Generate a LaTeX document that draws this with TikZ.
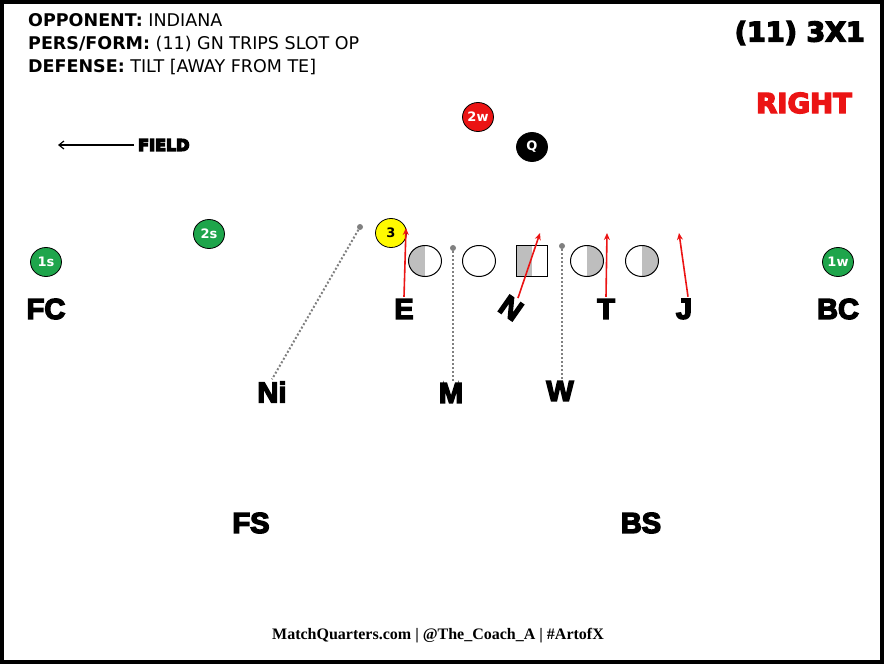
\documentclass[tikz,border=0pt]{standalone}
\usepackage{fontspec}
\setmainfont{DejaVu Sans}
\newfontfamily\blackfont{Liberation Sans}[UprightFont={* Bold}]
\newfontfamily\wideblack{DejaVu Sans}[UprightFont={* Bold}]
\newfontfamily\footfont{Liberation Serif}
\newcommand{\thick}[1]{\special{pdf:literal direct 2 Tr 1.4 w}#1\special{pdf:literal direct 0 Tr}}
\usetikzlibrary{arrows.meta,shapes.geometric}
\definecolor{grn}{RGB}{30,165,75}
\definecolor{rd}{RGB}{235,20,20}
\definecolor{yl}{RGB}{255,250,0}
\definecolor{halfgray}{RGB}{190,190,190}

\begin{document}
\begin{tikzpicture}[x=1pt,y=-1pt,
	spot/.style={font=\blackfont\fontsize{29}{29}\selectfont, inner sep=2pt},
	chip/.style={ellipse, draw=black, line width=0.8pt, minimum width=31pt, minimum height=29pt, inner sep=0pt, text=white, font=\wideblack\fontsize{13}{13}\selectfont},
	oline/.style={ellipse, draw, line width=1pt, minimum width=33pt, minimum height=31pt},
	lhalf/.style={path picture={\fill[halfgray] (path picture bounding box.south west) rectangle (path picture bounding box.north);}},
	rhalf/.style={path picture={\fill[halfgray] (path picture bounding box.south) rectangle (path picture bounding box.north east);}},
	move/.style={rd, line width=1.6pt, -{Stealth[length=7pt,width=6pt]}},
	drop/.style={gray, dotted, line width=2pt},
	knob/.style={circle, fill=gray, inner sep=0pt, minimum size=6pt}]
	\useasboundingbox (0,0) rectangle (884,664);
	\draw[line width=4pt] (2,2) rectangle (882,662); % cadre

	% en-tete
	\begin{scope}[every node/.style={anchor=west, inner sep=0pt, font=\fontsize{17.5}{17.5}\selectfont}]
		\node (opp) at (28,20) {\textbf{OPPONENT:} INDIANA};
		\node (pers) at (28,44) {\textbf{PERS/FORM:} (11) GN TRIPS SLOT OP};
		\node (def) at (28,67) {\textbf{DEFENSE:} TILT [AWAY FROM TE]};
	\end{scope}
	\node[anchor=east, inner sep=0pt, font=\wideblack\fontsize{27}{27}\selectfont] (form) at (865,33) {\thick{(11) 3X1}};
	\node[text=rd, inner sep=0pt, font=\wideblack\fontsize{27.5}{27.5}\selectfont] (side) at (804,103) {\thick{RIGHT}};

	\node[anchor=west, inner sep=0pt, font=\wideblack\fontsize{16}{16}\selectfont] (field) at (138,145) {\thick{FIELD}};
	\coordinate (fieldtip) at (58,145);
	\draw[line width=1.2pt, -{Straight Barb[length=5pt,width=8pt]}] ([xshift=-4pt]field.west) -- (fieldtip);

	% attaque
	\node[chip, fill=rd] (c2w) at (478,117) {2w};
	\node[chip, fill=black] (cQ) at (532,147) {Q};
	\node[chip, fill=grn] (c2s) at (209,234) {2s};
	\node[chip, fill=grn] (c1s) at (46,262) {1s};
	\node[chip, fill=grn] (c1w) at (838,262) {1w};
	\node[chip, fill=yl, text=black] (c3) at (391,233) {3};
	\node[oline, lhalf] (lt) at (425,261) {};
	\node[oline] (lg) at (479,261) {};
	\node[draw, line width=1pt, minimum size=31pt, inner sep=0pt, lhalf] (ctr) at (532,261) {};
	\node[oline, rhalf] (rg) at (587,261) {};
	\node[oline, rhalf] (rt) at (642,261) {};

	% defense
	\foreach \Name/\Text/\Point in {FC/FC/{(46,309)}, E/E/{(404,309)}, T/T/{(606,309)},
		J/J/{(684,309)}, BC/BC/{(838,309)}, Ni/Ni/{(272,392)}, M/M/{(451,393)},
		W/W/{(560,391)}, FS/FS/{(251,523)}, BS/BS/{(641,523)}}{
		\node[spot] (\Name) at \Point {\thick{\Text}};}
	\node[spot, rotate=-35] (N) at (511,308) {\thick{N}};

	\node[knob] (kNi) at (360,227) {};
	\node[knob] (kM) at (453,248) {};
	\node[knob] (kW) at (562,246) {};
	\draw[drop] (kNi) -- (Ni.north);
	\draw[drop] (kM) -- (kM |- M.north);
	\draw[drop] (kW) -- (kW |- W.north);

	\coordinate (tE) at (406,228);
	\coordinate (tN) at (540,233);
	\coordinate (tT) at (607,233);
	\coordinate (tJ) at (679,233);
	\draw[move] (E.north) -- (tE);
	\draw[move] (N.north) -- (tN);
	\draw[move] (T.north) -- (tT);
	\draw[move] ([xshift=4pt]J.north) -- (tJ);

	\node[inner sep=0pt, font=\footfont\bfseries\fontsize{16}{16}\selectfont] (credit) at (438,636) {MatchQuarters.com | @The\_Coach\_A | \#ArtofX};
\end{tikzpicture}
\end{document}
